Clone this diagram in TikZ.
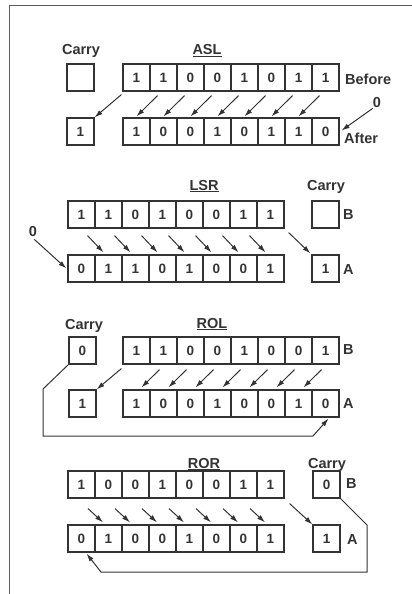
\documentclass[tikz,border=0pt]{standalone}
\usepackage{fontspec}
\setmainfont{Liberation Sans}
\usetikzlibrary{arrows.meta,calc}
\definecolor{ink}{HTML}{333333}
\newcommand\bitrow[4]{% name, left x, centre y, bits
  \foreach \b [count=\i from 0] in {#4} {
    \node[cell] (#1-\i) at ({#2+27*\i+13.5},#3) {\b};
  }}
\begin{document}
\begin{tikzpicture}[x=1pt,y=-1pt,
  cell/.style={draw=ink,line width=1.2pt,minimum width=27pt,minimum height=27pt,inner sep=0pt,text=ink,font=\fontsize{13.5}{13.5}\selectfont\bfseries},
  lab/.style={text=ink,font=\fontsize{14.5}{14.5}\selectfont\bfseries,inner sep=0pt},
  arr/.style={draw=ink,line width=1pt,-{Latex[length=8pt,width=5pt]}},
  frame/.style={draw=ink!80,line width=1pt}]
\useasboundingbox (0,0) rectangle (412,594);
\coordinate (fbl) at (9,594);
\coordinate (ftl) at (9,6);
\coordinate (ftr) at (412,6);
\draw[frame] (fbl) -- (ftl) -- (ftr);

% ---------------- ASL ----------------
\node[lab,anchor=base] (aslcarry) at (81,55) {Carry};
\node[lab,anchor=base] (asltitle) at (207,55) {\underline{ASL}};
\node[cell] (aslc0) at (80.5,77.5) {};
\bitrow{aslb}{123}{77.5}{1,1,0,0,1,0,1,1}
\node[lab,anchor=west] (aslbefore) at (345,79) {Before};
\node[cell] (aslc1) at (80.5,131.5) {1};
\bitrow{asla}{123}{131.5}{1,0,0,1,0,1,1,0}
\node[lab,anchor=west] (aslafter) at (344,138) {After};
\node[lab] (aslzero) at (377,103) {0};
\foreach \i [evaluate=\i as \j using int(\i+1)] in {0,...,6}
  \draw[arr] ($(aslb-\j.south)+(-6,4)$) -- ($(asla-\i.north)+(0,-1)$);
\draw[arr] ($(aslb-0.south west)+(-1,3)$) -- (aslc1.north east);
\draw[arr] (aslzero.south west) -- ($(asla-7.east)+(2,-1)$);

% ---------------- LSR ----------------
\node[lab,anchor=base] (lsrtitle) at (204,190) {\underline{LSR}};
\node[lab,anchor=base] (lsrcarry) at (326,190) {Carry};
\bitrow{lsrb}{68}{214.5}{1,1,0,1,0,0,1,1}
\node[cell] (lsrcb) at (325.5,214.5) {};
\node[lab,anchor=west] (lsrB) at (343,215) {B};
\bitrow{lsra}{68}{268.5}{0,1,1,0,1,0,0,1}
\node[cell] (lsrca) at (325.5,268.5) {1};
\node[lab,anchor=west] (lsrA) at (343,270) {A};
\node[lab] (lsrzero) at (33,232) {0};
\foreach \i [evaluate=\i as \j using int(\i+1)] in {0,...,6}
  \draw[arr] ($(lsrb-\i.south)+(6,7)$) -- ($(lsra-\j.north)+(-5,-2)$);
\draw[arr] ($(lsrb-7.south east)+(4,4)$) -- ($(lsrca.north west)+(-1,-1)$);
\draw[arr] ($(lsrzero.south east)+(-3,2)$) -- ($(lsra-0.west)+(-1,0)$);

% ---------------- ROL ----------------
\node[lab,anchor=base] (rolcarry) at (84,329) {Carry};
\node[lab,anchor=base] (roltitle) at (212,328) {\underline{ROL}};
\node[cell] (rolc0) at (82.5,350.5) {0};
\bitrow{rolb}{123}{350.5}{1,1,0,0,1,0,0,1}
\node[lab,anchor=west] (rolB) at (343,350) {B};
\node[cell] (rolc1) at (82.5,403.5) {1};
\bitrow{rola}{123}{403.5}{1,0,0,1,0,0,1,0}
\node[lab,anchor=west] (rolA) at (343,404) {A};
\foreach \i [evaluate=\i as \j using int(\i+1)] in {0,...,6}
  \draw[arr] ($(rolb-\j.south)+(-4,5)$) -- ($(rola-\i.north)+(5,-2)$);
\draw[arr] ($(rolb-0.south west)+(-1,4)$) -- (rolc1.north east);
\coordinate (rolk1) at (43,389);
\coordinate (rolk2) at (43,436);
\coordinate (rolk3) at (313,436);
\draw[arr] (rolc0.south west) -- (rolk1) -- (rolk2) -- (rolk3) -- ($(rola-7.south)+(3,1)$);

% ---------------- ROR ----------------
\node[lab,anchor=base] (rortitle) at (204,468) {\underline{ROR}};
\node[lab,anchor=base] (rorcarry) at (327,468) {Carry};
\bitrow{rorb}{68}{484.5}{1,0,0,1,0,0,1,1}
\node[cell] (rorcb) at (326.5,484.5) {0};
\node[lab,anchor=west] (rorB) at (346,484) {B};
\bitrow{rora}{68}{538.5}{0,1,0,0,1,0,0,1}
\node[cell] (rorca) at (326.5,538.5) {1};
\node[lab,anchor=west] (rorA) at (347,540) {A};
\foreach \i [evaluate=\i as \j using int(\i+1)] in {0,...,6}
  \draw[arr] ($(rorb-\i.south)+(6.5,10)$) -- ($(rora-\j.north)+(-5.5,-2)$);
\draw[arr] ($(rorb-7.south east)+(5,5)$) -- (rorca.north west);
\coordinate (rork1) at (367,525);
\coordinate (rork2) at (367,572);
\coordinate (rork3) at (101,572);
\draw[arr] (rorcb.south east) -- (rork1) -- (rork2) -- (rork3) -- ($(rora-0.south)+(5,1)$);
\end{tikzpicture}
\end{document}
